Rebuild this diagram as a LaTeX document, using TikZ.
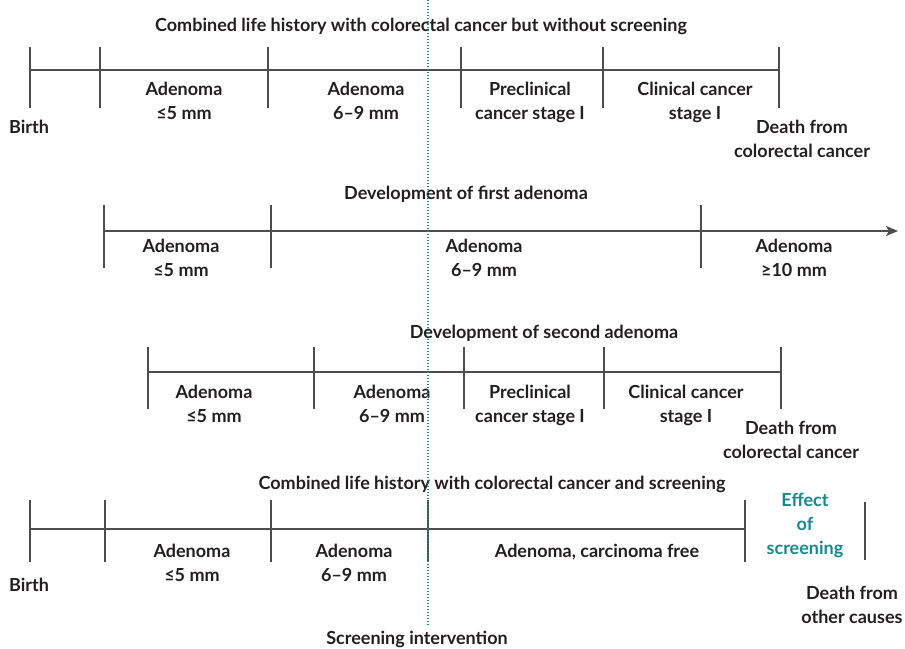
\documentclass[tikz,border=0pt]{standalone}
\usepackage{fontspec}
\setmainfont{Lato}
\usetikzlibrary{arrows.meta}
\definecolor{txt}{HTML}{231F20}
\definecolor{ln}{HTML}{4D4D4D}
\definecolor{tl}{HTML}{16898A}
\begin{document}
\begin{tikzpicture}[x=1pt,y=-1pt,
 lbl/.style={font=\fontsize{18}{24}\selectfont\bfseries, text=txt, align=center, inner sep=0pt, anchor=base},
 axis/.style={draw=ln, line width=1.6pt},
 tickl/.style={draw=ln, line width=1.3pt},
 scr/.style={draw=tl, line width=1.4pt, dash pattern=on 1.3pt off 1.7pt},
]
\useasboundingbox (0,0) rectangle (905,648);

% ---------- Row 1 ----------
\node[lbl] (t1) at (421,31) {Combined life history with colorectal cancer but without screening};
\foreach \n/\x in {a/30,b/100,c/268,d/461,e/603,f/779}{
  \coordinate (r1\n) at (\x,70);
  \draw[tickl] (\x,47) -- (\x,108);
}
\draw[axis] (r1a) -- (r1f);
\node[lbl] (r1l1) at (184,119) {Adenoma\\≤5 mm};
\node[lbl] (r1l2) at (366,119) {Adenoma\\6–9 mm};
\node[lbl] (r1l3) at (530,119) {Preclinical\\cancer stage I};
\node[lbl] (r1l4) at (695,119) {Clinical cancer\\stage I};
\node[lbl] (r1b) at (29,133) {Birth};
\node[lbl] (r1d) at (802,157) {Death from\\colorectal cancer};

% ---------- Row 2 ----------
\node[lbl] (t2) at (466,199) {Development of first adenoma};
\foreach \n/\x in {a/104,b/271,c/701}{
  \coordinate (r2\n) at (\x,231);
  \draw[tickl] (\x,205) -- (\x,268);
}
\coordinate (r2end) at (898,231);
\draw[axis,-{Stealth[length=12pt,width=10pt,inset=3pt]}] (r2a) -- (r2end);
\node[lbl] (r2l1) at (181,276) {Adenoma\\≤5 mm};
\node[lbl] (r2l2) at (484,276) {Adenoma\\6–9 mm};
\node[lbl] (r2l3) at (794,276) {Adenoma\\≥10 mm};

% ---------- Row 3 ----------
\node[lbl] (t3) at (544,338) {Development of second adenoma};
\foreach \n/\x in {a/148,b/314,c/464,d/604,e/781}{
  \coordinate (r3\n) at (\x,372);
  \draw[tickl] (\x,347) -- (\x,409);
}
\draw[axis] (r3a) -- (r3e);
\node[lbl] (r3l1) at (214,422) {Adenoma\\≤5 mm};
\node[lbl] (r3l2) at (392,422) {Adenoma\\6–9 mm};
\node[lbl] (r3l3) at (530,422) {Preclinical\\cancer stage I};
\node[lbl] (r3l4) at (686,422) {Clinical cancer\\stage I};
\node[lbl] (r3d) at (791,458) {Death from\\colorectal cancer};

% ---------- Row 4 ----------
\node[lbl] (t4) at (492,489) {Combined life history with colorectal cancer and screening};
\foreach \n/\x in {a/30,b/105,c/271,d/428,e/745}{
  \coordinate (r4\n) at (\x,529);
  \draw[tickl] (\x,500) -- (\x,562);
}
\draw[tickl] (865,502) -- (865,560);
\draw[axis] (r4a) -- (r4e);
\node[lbl] (r4l1) at (192,581) {Adenoma\\≤5 mm};
\node[lbl] (r4l2) at (354,581) {Adenoma\\6–9 mm};
\node[lbl] (r4l3) at (597,557) {Adenoma, carcinoma free};
\node[lbl, text=tl] (r4eff) at (805,554) {Effect\\of\\screening};
\node[lbl] (r4b) at (29,591) {Birth};
\node[lbl] (r4d) at (852,623) {Death from\\other causes};

% ---------- Screening line ----------
\coordinate (s1) at (428,0);
\coordinate (s2) at (428,625);
\draw[scr] (s1) -- (s2);
\node[lbl] (si) at (417,644) {Screening intervention};
\end{tikzpicture}
\end{document}
